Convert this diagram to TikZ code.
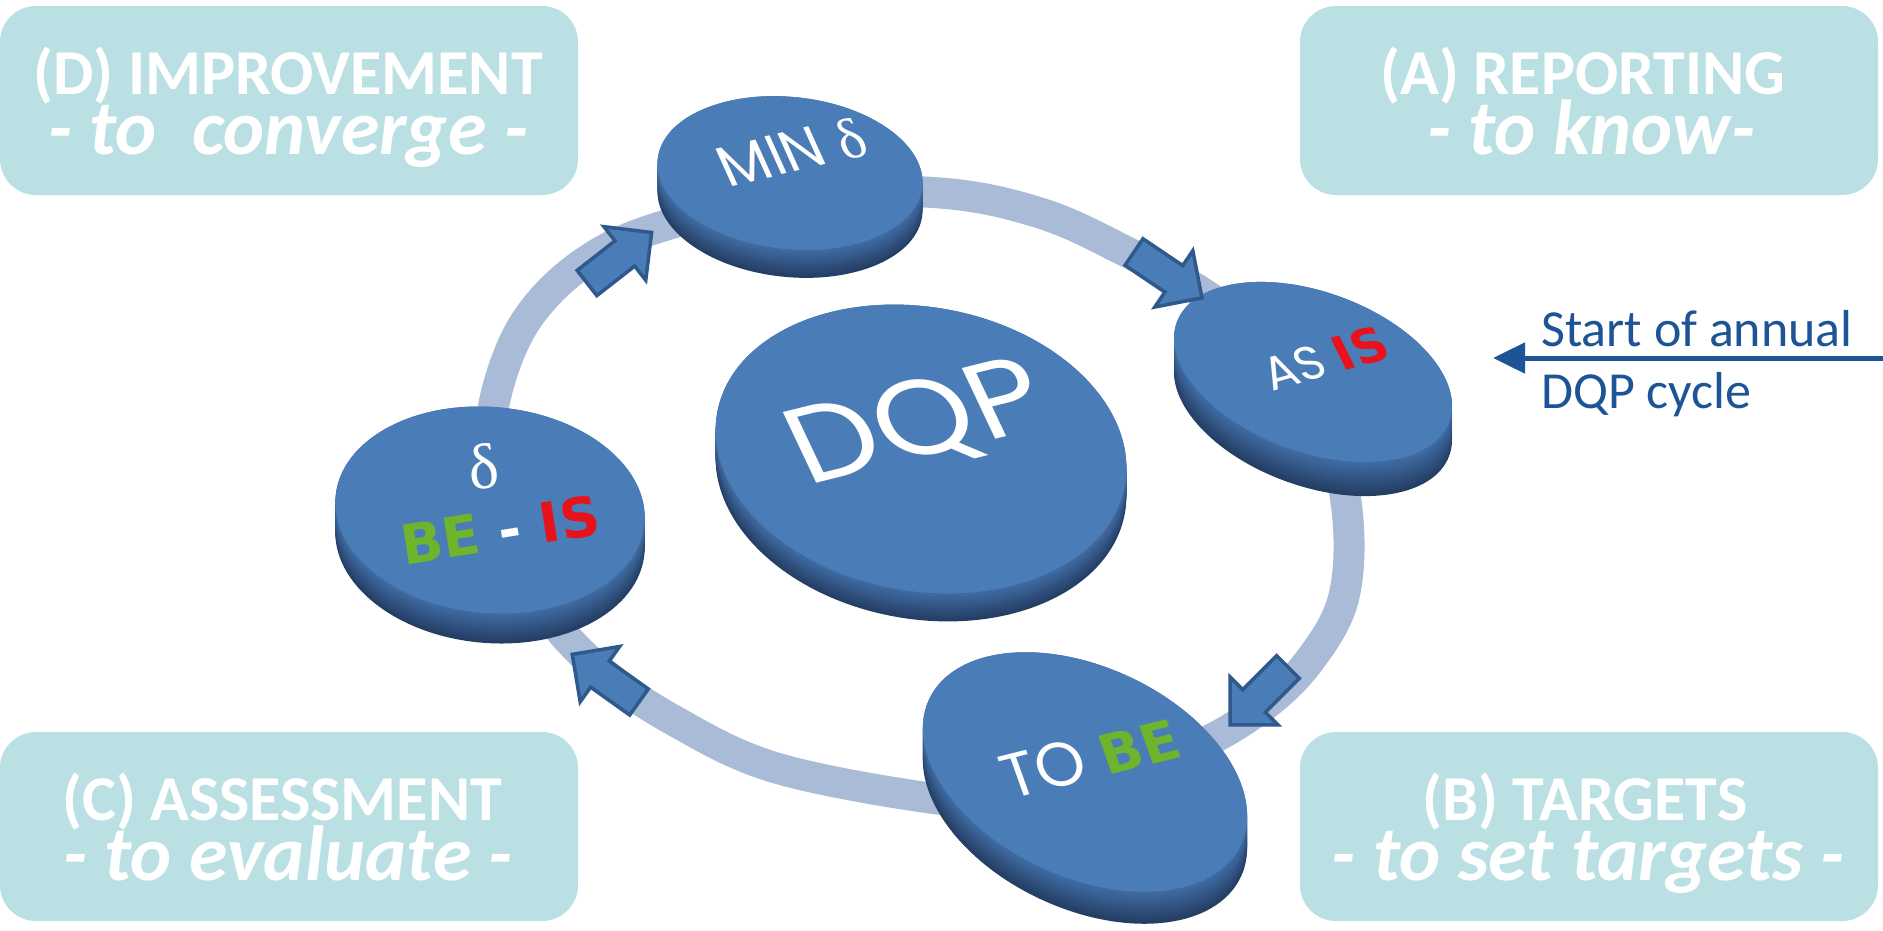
\documentclass[tikz,border=0pt]{standalone}
\usepackage{fontspec}
\setmainfont{Carlito}
\newfontfamily\geo{Poppins}
\newfontfamily\dv{DejaVu Sans}
\newfontfamily\lser{Liberation Serif}
\usetikzlibrary{arrows.meta}
\definecolor{boxfill}{RGB}{186,224,228}
\definecolor{ringc}{RGB}{169,187,214}
\definecolor{disctop}{RGB}{74,124,183}
\definecolor{disclight}{RGB}{66,110,166}
\definecolor{discdark}{RGB}{36,62,100}
\definecolor{arrowfill}{RGB}{74,124,183}
\definecolor{arrowline}{RGB}{47,88,140}
\definecolor{startblue}{RGB}{28,84,150}
\definecolor{begreen}{RGB}{110,180,45}
\definecolor{isred}{RGB}{232,18,28}
\newcommand\fs[1]{\fontsize{#1}{#1}\selectfont}
\newcommand\colG[1]{{\color{begreen}#1}}
\newcommand\colR[1]{{\color{isred}#1}}
\newcommand\drawdisc[6]{%
  \foreach \k in {0,...,14}{%
    \pgfmathsetmacro\off{#6*(1-\k/14)}%
    \pgfmathtruncatemacro\pc{\k*100/14}%
    \fill[disclight!\pc!discdark, rotate around={#5:(#1,#2+\off)}] (#1,#2+\off) ellipse [x radius=#3pt, y radius=#4pt];
  }%
  \fill[disctop, rotate around={#5:(#1,#2)}] (#1,#2) ellipse [x radius=#3pt, y radius=#4pt];
}
\newcommand\blockarrow[3]{%
  \begin{scope}[shift={(#1,#2)}, rotate=#3]
    \filldraw[barrow] (0,-16) -- (48,-16) -- (48,-34) -- (82,0) -- (48,34) -- (48,16) -- (0,16) -- cycle;
  \end{scope}}
\tikzset{
  box/.style={fill=boxfill, rounded corners=36pt, inner sep=0pt, minimum width=578pt, minimum height=189pt},
  btitle/.style={text=white, font=\fs{64}\bfseries, anchor=base, inner sep=0pt},
  bsub/.style={text=white, font=\fs{78}\bfseries\itshape, anchor=base, inner sep=0pt},
  dlabel/.style={text=white, inner sep=0pt},
  barrow/.style={fill=arrowfill, draw=arrowline, line width=3.5pt, miter limit=10},
  ring/.style={draw=ringc, line width=31pt},
  stext/.style={text=startblue, font=\fs{52}, anchor=base west, inner sep=0pt}
}
\begin{document}
\begin{tikzpicture}[x=1pt,y=-1pt]
\useasboundingbox (0,0) rectangle (1883,930);
\fill[white] (0,0) rectangle (1883,930);
% boxes
\node[box] (Dbox) at (289,100.5) {};
\node[box] (Abox) at (1589,100.5) {};
\node[box] (Cbox) at (289,826.5) {};
\node[box] (Bbox) at (1589,826.5) {};
\node[btitle] (Dt) at (288,94) {(D) IMPROVEMENT};
\node[bsub] (Ds) at (288,154) {- to\ \ converge -};
\node[btitle] (At) at (1583,94) {(A) REPORTING};
\node[bsub] (As) at (1591,154) {- to know-};
\node[btitle] (Ct) at (282,820) {(C) ASSESSMENT};
\node[bsub] (Cs) at (288,880) {- to evaluate -};
\node[btitle] (Bt) at (1585,820) {(B) TARGETS};
\node[bsub] (Bs) at (1588,880) {- to set targets -};
% ring
\draw[ring] plot[smooth cycle, tension=0.6] coordinates {(660,227) (800,195) (940,193) (1040,213) (1123,250) (1213,300) (1285,365) (1330,440) (1348,520) (1343,600) (1310,660) (1265,705) (1200,745) (1100,785) (1000,800) (923,797) (773,767) (673,720) (600,670) (545,610) (505,530) (490,450) (500,380) (530,315) (585,262)};
% discs
\drawdisc{790}{173}{133}{76}{-6}{28}
\drawdisc{1313}{372}{145}{80}{-20}{34}
\drawdisc{921}{449}{207}{142}{-10}{28}
\drawdisc{490}{510}{155}{103}{-5}{30}
\drawdisc{1085}{772}{172}{105}{-25}{32}
% disc labels
\node[dlabel, rotate=13, xslant=-0.2] (minT) at (792,152) {\fs{58}\geo MIN {\lser δ}};
\node[dlabel, rotate=14, xslant=-0.2, xscale=1.12] (dqpT) at (918,426) {\fs{110}\geo DQP};
\node[dlabel, rotate=16, xslant=-0.18] (asisT) at (1325,358) {\fs{48}\geo AS {\fs{48}\dv\bfseries\colR{IS}}};
\node[dlabel, rotate=8] (deltaT) at (483,467) {\fs{64}\lser δ};
\node[dlabel, rotate=9] (beisT) at (500,530) {\fs{55}\dv\bfseries \colG{BE} - \colR{IS}};
\node[dlabel, rotate=14, xslant=-0.1] (tobeT) at (1090,757) {\fs{63}\geo TO {\fs{55}\dv\bfseries\colG{BE}}};
% block arrows
\blockarrow{587}{283}{38}
\blockarrow{1134}{252}{-34}
\blockarrow{1288}{667}{-135}
\blockarrow{639}{702}{144.5}
% start arrow
\coordinate (sR) at (1883,358);
\coordinate (sL) at (1493,358);
\draw[startblue, line width=5pt, -{Triangle[length=32pt,width=30pt]}] (sR) -- (sL);
\node[stext] (st1) at (1541,346) {Start of annual};
\node[stext] (st2) at (1541,408) {DQP cycle};
\end{tikzpicture}
\end{document}
